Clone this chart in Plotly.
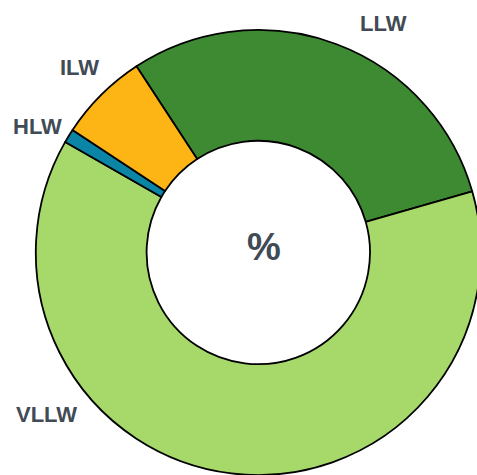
import plotly.graph_objects as go

categories = ["LLW", "VLLW", "HLW", "ILW"]
values = [29.8, 62.7, 1.0, 6.5]
colors = ["#3d8a33", "#a7d96a", "#0a85a5", "#fdb515"]

W, H = 482, 475

# label anchor positions (pixels from top-left)
label_px = {
    "LLW": (383, 23.5),
    "ILW": (79, 67.5),
    "HLW": (37, 126.5),
    "VLLW": (46, 414),
}

dom_x = [35.7 / W, 480.9 / W]
dom_y = [0.0, (H - 30) / H]

fig = go.Figure(go.Pie(
    labels=categories,
    values=values,
    hole=0.502,
    sort=False,
    direction="clockwise",
    rotation=-33.2,
    marker=dict(colors=colors, line=dict(color="#000000", width=1.8)),
    textinfo="none",
    hoverinfo="label+percent",
    domain=dict(x=dom_x, y=dom_y),
    showlegend=False,
))

text_color = "#414b55"
for cat in categories:
    px, py = label_px[cat]
    fig.add_annotation(x=px / W, y=1 - py / H, xref="paper", yref="paper", text="<b>%s</b>" % cat,
                       showarrow=False, xanchor="center", yanchor="middle",
                       font=dict(family="Liberation Sans, Arial, sans-serif", size=22, color=text_color))

fig.add_annotation(x=263.5 / W, y=1 - 247 / H, xref="paper", yref="paper",
                   text="<b>%</b>", showarrow=False, xanchor="center", yanchor="middle",
                   font=dict(family="Liberation Sans, Arial, sans-serif", size=38, color=text_color))

fig.update_layout(
    width=W, height=H,
    margin=dict(l=0, r=0, t=0, b=0),
    paper_bgcolor="white", plot_bgcolor="white",
)

fig.write_html(
    "out.html",
    config={"displayModeBar": False},
    post_script="document.body.style.margin='0';document.body.style.overflow='hidden';"
                "document.documentElement.style.overflow='hidden';",
)
